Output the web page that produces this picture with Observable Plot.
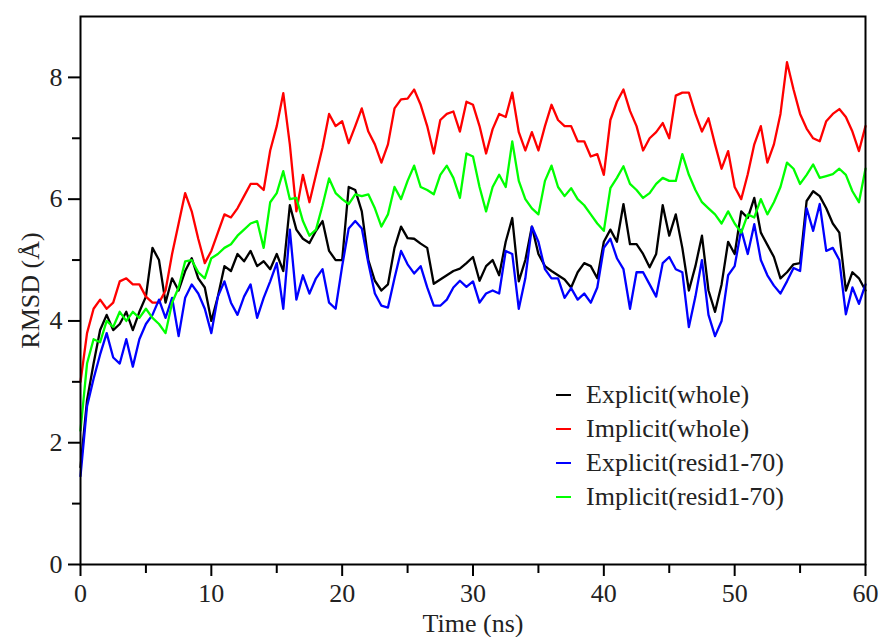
<!DOCTYPE html>
<html><head><meta charset="utf-8">
<script src="https://cdn.jsdelivr.net/npm/d3@7"></script>
<script src="https://cdn.jsdelivr.net/npm/@observablehq/plot@0.6"></script>
<style>
body{margin:0;background:#fff;}
#wrap{position:relative;width:884px;height:637px;font-family:"Liberation Serif","Times New Roman",serif;}
#legend{position:absolute;left:556px;top:378px;font-size:26px;color:#222;}
.row{display:flex;align-items:center;height:34px;white-space:nowrap;}
.sw{display:inline-block;width:15px;height:2px;margin-right:15px;}
</style></head><body><div id="wrap"><div id="legend"></div></div>
<script>
// sampling grid (ns)
const timeNs = d3.range(0, 60.25, 0.5);

const seriesNames = ["Explicit(whole)", "Implicit(whole)", "Explicit(resid1-70)", "Implicit(resid1-70)"];
const seriesColors = ["#000000", "#ff0000", "#0000ff", "#00ff00"];

const explicitWhole = [
  1.6, 2.7, 3.3, 3.85, 4.1, 3.85, 3.95, 4.15, 3.85, 4.15,
  4.4, 5.2, 5.0, 4.3, 4.7, 4.5, 4.82, 5.03, 4.7, 4.55,
  4.0, 4.4, 4.9, 4.82, 5.1, 4.98, 5.15, 4.9, 4.98, 4.85,
  5.1, 4.82, 5.9, 5.5, 5.35, 5.28, 5.48, 5.64, 5.15, 5.0,
  5.0, 6.2, 6.15, 5.8, 5.0, 4.66, 4.5, 4.6, 5.2, 5.55,
  5.36, 5.35, 5.27, 5.2, 4.61, 4.68, 4.75, 4.82, 4.86, 4.95,
  5.05, 4.66, 4.9, 5.0, 4.75, 5.3, 5.69, 4.65, 5.0, 5.55,
  5.1, 4.9, 4.82, 4.75, 4.68, 4.55, 4.8, 4.95, 4.9, 4.7,
  5.3, 5.5, 5.3, 5.92, 5.26, 5.26, 5.1, 4.88, 5.1, 5.9,
  5.4, 5.75, 5.2, 4.5, 4.9, 5.4, 4.5, 4.15, 4.6, 5.3,
  5.1, 5.8, 5.69, 6.02, 5.45, 5.25, 5.05, 4.7, 4.8, 4.93,
  4.95, 5.97, 6.13, 6.05, 5.85, 5.6, 5.45, 4.5, 4.8, 4.7,
  4.5
];
const implicitWhole = [
  3.0, 3.8, 4.2, 4.35, 4.2, 4.3, 4.65, 4.7, 4.6, 4.6,
  4.4, 4.3, 4.3, 4.5, 5.1, 5.6, 6.1, 5.8, 5.35, 4.95,
  5.15, 5.45, 5.75, 5.7, 5.85, 6.05, 6.25, 6.25, 6.15, 6.8,
  7.2, 7.74, 6.9, 5.8, 6.4, 5.95, 6.4, 6.85, 7.4, 7.2,
  7.28, 6.92, 7.2, 7.49, 7.11, 6.9, 6.6, 6.9, 7.49, 7.64,
  7.65, 7.8, 7.55, 7.2, 6.75, 7.3, 7.4, 7.44, 7.11, 7.6,
  7.55, 7.2, 6.75, 7.15, 7.4, 7.35, 7.75, 7.1, 6.8, 7.1,
  6.8, 7.2, 7.55, 7.3, 7.2, 7.2, 6.95, 6.95, 6.7, 6.74,
  6.4, 7.3, 7.6, 7.8, 7.45, 7.2, 6.8, 7.0, 7.1, 7.25,
  7.0, 7.7, 7.75, 7.75, 7.4, 7.11, 7.33, 6.9, 6.5, 6.79,
  6.2, 6.0, 6.41, 6.9, 7.2, 6.6, 6.9, 7.4, 8.25, 7.8,
  7.4, 7.16, 7.0, 6.95, 7.28, 7.4, 7.48, 7.35, 7.11, 6.79,
  7.2
];
const explicitResid = [
  1.45, 2.6, 3.05, 3.45, 3.8, 3.4, 3.3, 3.7, 3.25, 3.7,
  3.95, 4.1, 4.35, 4.05, 4.38, 3.75, 4.38, 4.6, 4.45, 4.2,
  3.8, 4.4, 4.65, 4.3, 4.1, 4.4, 4.6, 4.05, 4.38, 4.65,
  4.95, 4.2, 5.5, 4.35, 4.75, 4.45, 4.7, 4.85, 4.3, 4.2,
  4.9, 5.52, 5.64, 5.52, 4.95, 4.45, 4.25, 4.22, 4.7, 5.15,
  4.93, 4.78, 4.9, 4.55, 4.25, 4.25, 4.35, 4.55, 4.66, 4.56,
  4.65, 4.3, 4.45, 4.5, 4.45, 5.15, 5.1, 4.2, 4.7, 5.55,
  5.3, 4.85, 4.7, 4.7, 4.38, 4.54, 4.35, 4.45, 4.3, 4.55,
  5.2, 5.35, 5.03, 4.85, 4.2, 4.8, 4.8, 4.6, 4.4, 4.95,
  5.05, 4.85, 4.8, 3.9, 4.4, 5.0, 4.1, 3.75, 4.0, 4.75,
  4.9, 5.5, 5.1, 5.59, 5.0, 4.75, 4.58, 4.45, 4.65, 4.87,
  4.82, 5.85, 5.48, 5.92, 5.15, 5.2, 5.0, 4.11, 4.55, 4.28,
  4.6
];
const implicitResid = [
  2.2, 3.3, 3.7, 3.65, 4.0, 3.9, 4.15, 4.0, 4.15, 4.05,
  4.2, 4.05, 3.95, 3.8, 4.3, 4.55, 4.98, 5.0, 4.8, 4.7,
  5.03, 5.1, 5.2, 5.26, 5.4, 5.5, 5.6, 5.64, 5.2, 5.95,
  6.1, 6.46, 6.0, 6.02, 5.64, 5.4, 5.5, 5.9, 6.34, 6.1,
  6.0, 5.92, 6.08, 6.05, 6.08, 5.85, 5.55, 5.75, 6.2, 6.0,
  6.3, 6.55, 6.2, 6.15, 6.08, 6.4, 6.55, 6.35, 6.02, 6.75,
  6.7, 6.2, 5.8, 6.2, 6.4, 6.2, 6.95, 6.3, 6.0, 5.85,
  5.75, 6.3, 6.55, 6.2, 6.05, 6.18, 6.0, 5.9, 5.75, 5.6,
  5.48, 6.18, 6.35, 6.54, 6.25, 6.15, 6.02, 6.1, 6.25, 6.35,
  6.3, 6.3, 6.74, 6.4, 6.15, 5.95, 5.85, 5.75, 5.6, 5.8,
  5.6, 5.45, 5.75, 5.7, 6.0, 5.75, 5.95, 6.2, 6.6, 6.5,
  6.25, 6.4, 6.57, 6.35, 6.38, 6.41, 6.5, 6.4, 6.13, 5.95,
  6.5
];

const xMajorTicks = [0, 10, 20, 30, 40, 50, 60];
const xMinorTicks = [5, 15, 25, 35, 45, 55];
const yMajorTicks = [0, 2, 4, 6, 8];
const yMinorTicks = [1, 3, 5, 7];
const xTitle = "Time (ns)";
const yTitle = "RMSD (Å)";

const allSeries = [explicitWhole, implicitWhole, explicitResid, implicitResid];
const rows = [];
allSeries.forEach((vals, s) => vals.forEach((v, i) => rows.push({t: timeNs[i], v, series: seriesNames[s]})));

const font = "Liberation Serif, Times New Roman, serif";
const plot = Plot.plot({
  width: 884, height: 637,
  marginLeft: 80, marginRight: 19, marginTop: 16, marginBottom: 73,
  style: {fontFamily: font, fontSize: "26px", color: "#000", background: "#fff"},
  x: {domain: [0, 60], label: null},
  y: {domain: [0, 9], label: null},
  color: {domain: seriesNames, range: seriesColors},
  marks: [
    Plot.line(rows, {x: "t", y: "v", z: "series", stroke: "series", strokeWidth: 2.3}),
    Plot.frame({stroke: "#000", strokeWidth: 2}),
    Plot.axisX({ticks: xMajorTicks, tickSize: 12, tickPadding: 7, strokeWidth: 2, fill: "#222", fontSize: 26, label: null}),
    Plot.axisX({ticks: xMinorTicks, tickSize: 9, strokeWidth: 2, tickFormat: () => "", label: null}),
    Plot.axisY({ticks: yMajorTicks, tickSize: 12, tickPadding: 6, strokeWidth: 2, fill: "#222", fontSize: 26, label: null}),
    Plot.axisY({ticks: yMinorTicks, tickSize: 8, strokeWidth: 2, tickFormat: () => "", label: null}),
    Plot.text([xTitle], {text: d => d, frameAnchor: "bottom", lineAnchor: "middle", textAnchor: "middle", dy: 59, fontSize: 26, fill: "#222"}),
    Plot.text([yTitle], {text: d => d, frameAnchor: "left", lineAnchor: "middle", textAnchor: "middle", rotate: -90, dx: -50, fontSize: 26, fill: "#222"})
  ]
});
document.getElementById("wrap").prepend(plot);

const legend = document.getElementById("legend");
seriesNames.forEach((name, i) => {
  const row = document.createElement("div");
  row.className = "row";
  const sw = document.createElement("span");
  sw.className = "sw";
  sw.style.background = seriesColors[i];
  const label = document.createElement("span");
  label.textContent = name;
  row.append(sw, label);
  legend.append(row);
});
</script></body></html>
